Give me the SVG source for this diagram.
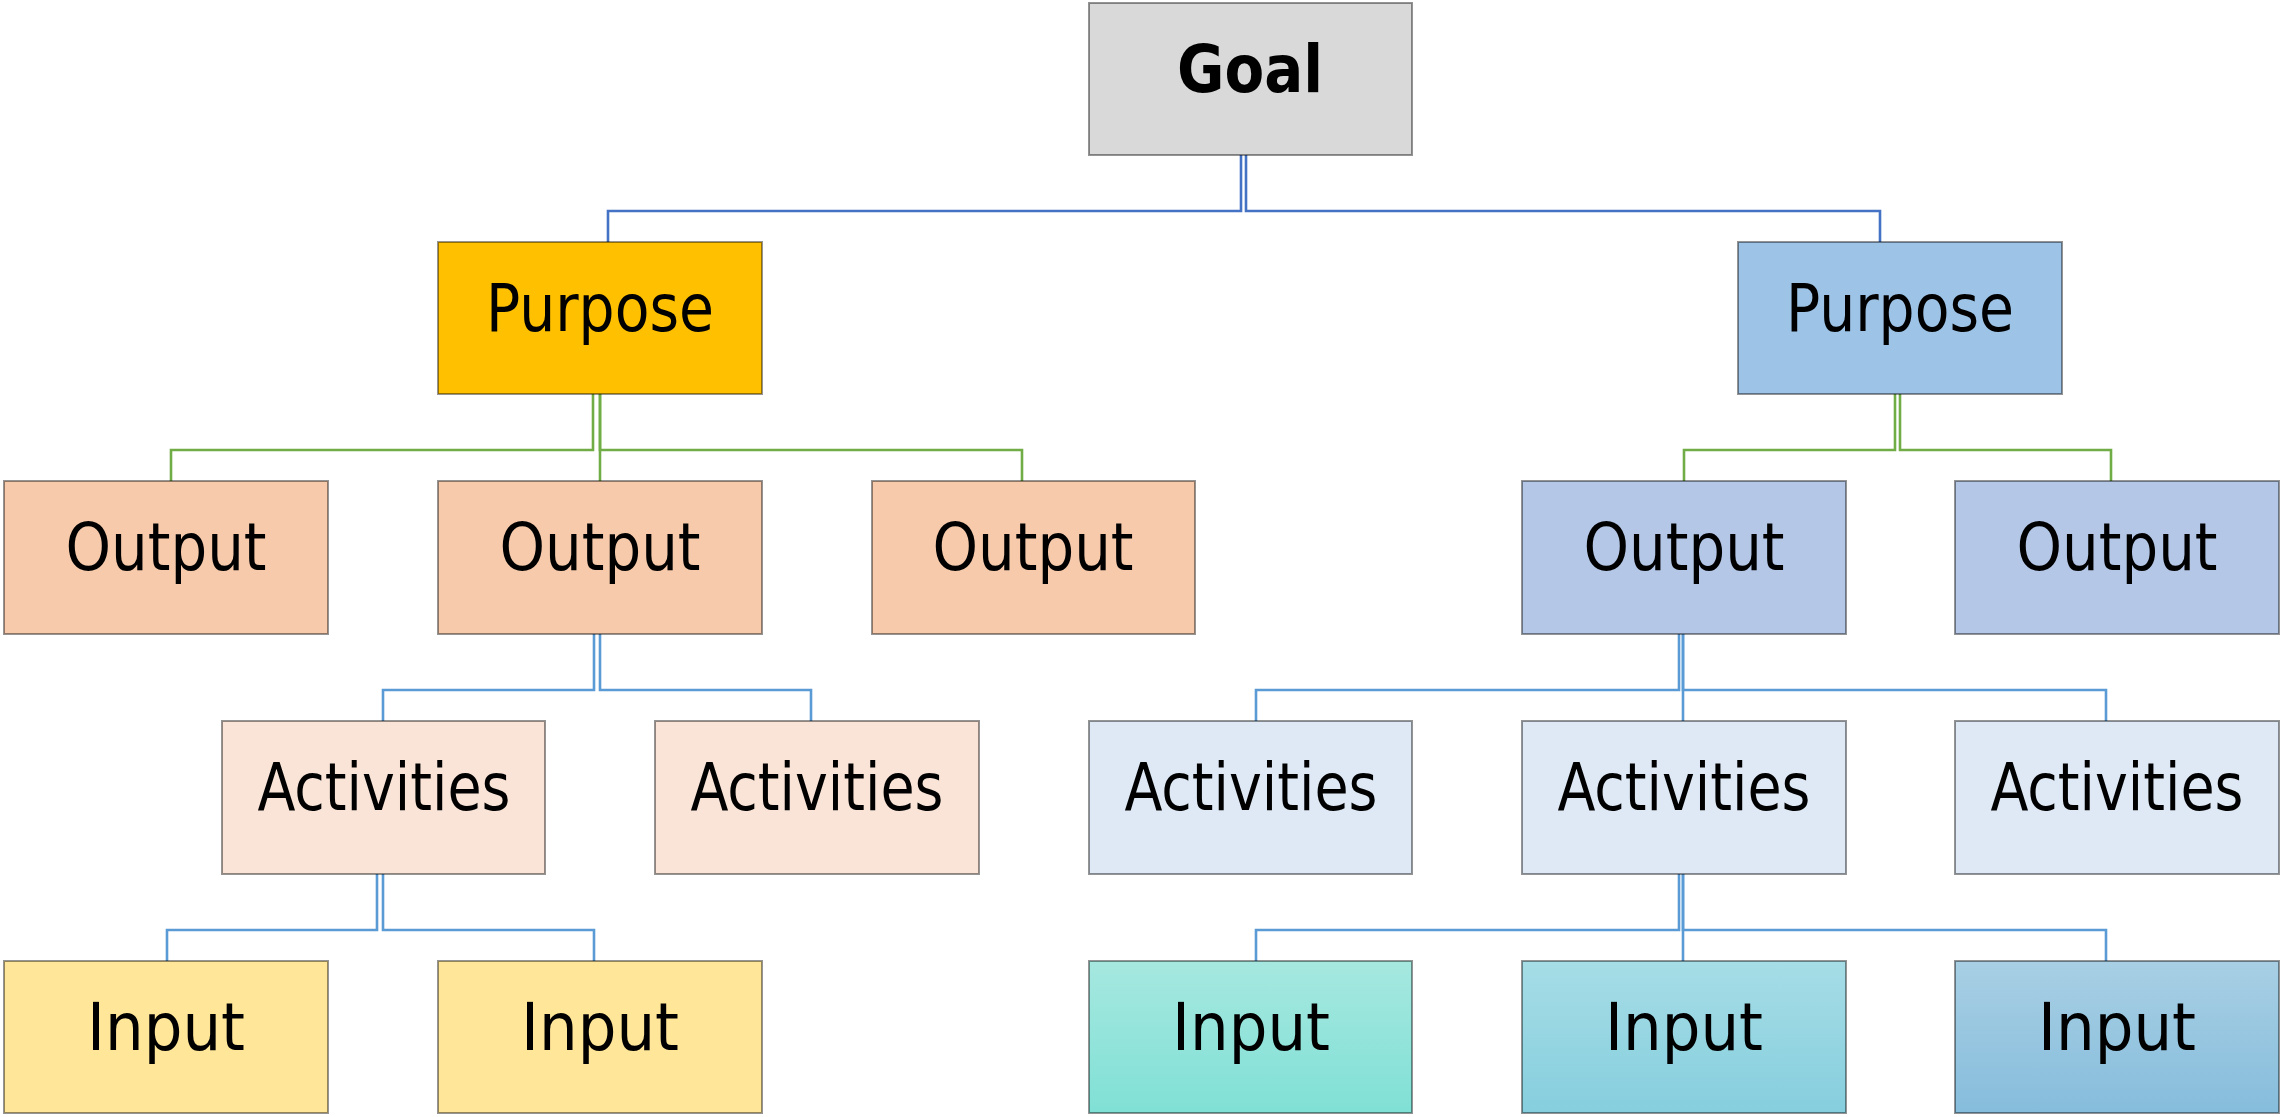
<svg xmlns="http://www.w3.org/2000/svg" width="2280" height="1117" viewBox="0 0 2280 1117">
<style>
.box{stroke:#000;stroke-opacity:0.42;stroke-width:2}
.lbl{font-family:"DejaVu Sans","Liberation Sans",sans-serif;font-stretch:condensed;font-size:66px;fill:#000;text-anchor:middle}
.goal{font-weight:bold}
.c{fill:none;stroke-width:2.6;stroke-linejoin:miter}
.top{stroke:#4472C4}
.grn{stroke:#70AD47}
.blu{stroke:#5B9BD5}
</style>
<defs>
<linearGradient id="gI1" x1="0" y1="0" x2="0" y2="1"><stop offset="0" stop-color="#A6E8E0"/><stop offset="1" stop-color="#80E0D5"/></linearGradient>
<linearGradient id="gI2" x1="0" y1="0" x2="0" y2="1"><stop offset="0" stop-color="#A6DDE6"/><stop offset="1" stop-color="#86CEDE"/></linearGradient>
<linearGradient id="gI3" x1="0" y1="0" x2="0" y2="1"><stop offset="0" stop-color="#A8CFE4"/><stop offset="1" stop-color="#86BDDC"/></linearGradient>
</defs>
<rect width="2280" height="1117" fill="#fff"/>
<g id="connectors">
<path class="c top" d="M1241,155 V211 H608 V242"/>
<path class="c top" d="M1246,155 V211 H1880 V242"/>
<path class="c grn" d="M593,394 V450 H171 V481"/>
<path class="c grn" d="M600,394 V481"/>
<path class="c grn" d="M600,394 V450 H1022 V481"/>
<path class="c grn" d="M1895,394 V450 H1684 V481"/>
<path class="c grn" d="M1900,394 V450 H2111 V481"/>
<path class="c blu" d="M594,634 V690 H383 V721"/>
<path class="c blu" d="M600,634 V690 H811 V721"/>
<path class="c blu" d="M1679,634 V690 H1256 V721"/>
<path class="c blu" d="M1683,634 V721"/>
<path class="c blu" d="M1683,634 V690 H2106 V721"/>
<path class="c blu" d="M377,874 V930 H167 V961"/>
<path class="c blu" d="M383,874 V930 H594 V961"/>
<path class="c blu" d="M1679,874 V930 H1256 V961"/>
<path class="c blu" d="M1683,874 V961"/>
<path class="c blu" d="M1683,874 V930 H2106 V961"/>
</g>
<g id="goal"><rect class="box" x="1089" y="3" width="323" height="152" fill="#D9D9D9"/><text class="lbl goal" x="1250" y="92" textLength="146" lengthAdjust="spacingAndGlyphs">Goal</text></g>
<g id="purpose-left"><rect class="box" x="438" y="242" width="324" height="152" fill="#FFC000"/><text class="lbl" x="600" y="331" textLength="228" lengthAdjust="spacingAndGlyphs">Purpose</text></g>
<g id="purpose-right"><rect class="box" x="1738" y="242" width="324" height="152" fill="#9DC3E6"/><text class="lbl" x="1900" y="331" textLength="228" lengthAdjust="spacingAndGlyphs">Purpose</text></g>
<g id="output-1"><rect class="box" x="4" y="481" width="324" height="153" fill="#F6CAAB"/><text class="lbl" x="166" y="570" textLength="201" lengthAdjust="spacingAndGlyphs">Output</text></g>
<g id="output-2"><rect class="box" x="438" y="481" width="324" height="153" fill="#F6CAAB"/><text class="lbl" x="600" y="570" textLength="201" lengthAdjust="spacingAndGlyphs">Output</text></g>
<g id="output-3"><rect class="box" x="872" y="481" width="323" height="153" fill="#F6CAAB"/><text class="lbl" x="1033" y="570" textLength="201" lengthAdjust="spacingAndGlyphs">Output</text></g>
<g id="output-4"><rect class="box" x="1522" y="481" width="324" height="153" fill="#B4C7E7"/><text class="lbl" x="1684" y="570" textLength="201" lengthAdjust="spacingAndGlyphs">Output</text></g>
<g id="output-5"><rect class="box" x="1955" y="481" width="324" height="153" fill="#B4C7E7"/><text class="lbl" x="2117" y="570" textLength="201" lengthAdjust="spacingAndGlyphs">Output</text></g>
<g id="activities-1"><rect class="box" x="222" y="721" width="323" height="153" fill="#F9E4D7"/><text class="lbl" x="384" y="810" textLength="253" lengthAdjust="spacingAndGlyphs">Activities</text></g>
<g id="activities-2"><rect class="box" x="655" y="721" width="324" height="153" fill="#F9E4D7"/><text class="lbl" x="817" y="810" textLength="253" lengthAdjust="spacingAndGlyphs">Activities</text></g>
<g id="activities-3"><rect class="box" x="1089" y="721" width="323" height="153" fill="#DEE9F5"/><text class="lbl" x="1251" y="810" textLength="253" lengthAdjust="spacingAndGlyphs">Activities</text></g>
<g id="activities-4"><rect class="box" x="1522" y="721" width="324" height="153" fill="#DEE9F5"/><text class="lbl" x="1684" y="810" textLength="253" lengthAdjust="spacingAndGlyphs">Activities</text></g>
<g id="activities-5"><rect class="box" x="1955" y="721" width="324" height="153" fill="#DEE9F5"/><text class="lbl" x="2117" y="810" textLength="253" lengthAdjust="spacingAndGlyphs">Activities</text></g>
<g id="input-1"><rect class="box" x="4" y="961" width="324" height="152" fill="#FFE699"/><text class="lbl" x="166" y="1050" textLength="158" lengthAdjust="spacingAndGlyphs">Input</text></g>
<g id="input-2"><rect class="box" x="438" y="961" width="324" height="152" fill="#FFE699"/><text class="lbl" x="600" y="1050" textLength="158" lengthAdjust="spacingAndGlyphs">Input</text></g>
<g id="input-3"><rect class="box" x="1089" y="961" width="323" height="152" fill="url(#gI1)"/><text class="lbl" x="1251" y="1050" textLength="158" lengthAdjust="spacingAndGlyphs">Input</text></g>
<g id="input-4"><rect class="box" x="1522" y="961" width="324" height="152" fill="url(#gI2)"/><text class="lbl" x="1684" y="1050" textLength="158" lengthAdjust="spacingAndGlyphs">Input</text></g>
<g id="input-5"><rect class="box" x="1955" y="961" width="324" height="152" fill="url(#gI3)"/><text class="lbl" x="2117" y="1050" textLength="158" lengthAdjust="spacingAndGlyphs">Input</text></g>
</svg>
